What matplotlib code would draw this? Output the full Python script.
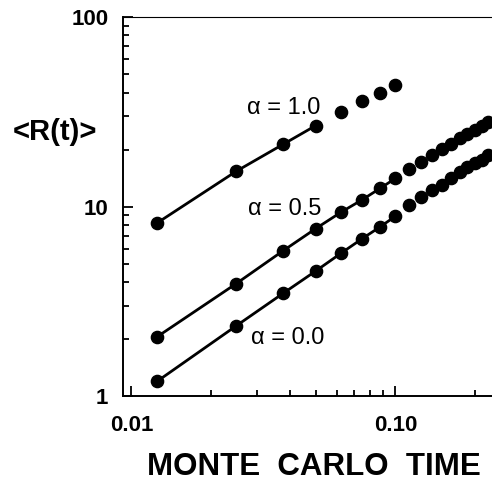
import matplotlib
matplotlib.use('Agg')
import matplotlib.pyplot as plt
import matplotlib.ticker

# Monte Carlo time steps
t = [0.0125, 0.025, 0.0375, 0.05, 0.0625, 0.075, 0.0875, 0.1,
     0.1125, 0.125, 0.1375, 0.15, 0.1625, 0.175, 0.1875, 0.2, 0.2125, 0.225]

r_a00 = [1.20, 2.36, 3.49, 4.59, 5.71, 6.80, 7.83, 8.91,
         10.2, 11.2, 12.2, 13.0, 14.1, 15.2, 16.2, 17.0, 17.7, 18.7]
r_a05 = [2.06, 3.94, 5.85, 7.68, 9.39, 10.9, 12.5, 14.1,
         15.9, 17.2, 18.7, 20.2, 21.5, 23.1, 24.3, 25.5, 26.5, 27.9]
t_a10 = [0.0125, 0.025, 0.0375, 0.05, 0.0625, 0.075, 0.0875, 0.1]
r_a10 = [8.2, 15.4, 21.3, 26.8, 31.5, 36.3, 39.7, 43.6]

# how many leading points are joined by the fitted line
n_line = {'a00': 8, 'a05': 8, 'a10': 4}

plt.rcParams['font.family'] = ['Liberation Sans', 'DejaVu Sans']

fig = plt.figure(figsize=(4.92, 4.82), dpi=100)
ax = fig.add_axes([0.25, 0.1774, 0.76, 0.7873])
ax.set_xscale('log')
ax.set_yscale('log')

for tt, rr, key in [(t, r_a00, 'a00'), (t, r_a05, 'a05'), (t_a10, r_a10, 'a10')]:
    n = n_line[key]
    ax.plot(tt[:n], rr[:n], color='black', lw=2.0, solid_capstyle='round')
    ax.plot(tt, rr, 'o', color='black', ms=8.8, mec='black')

ax.set_xlim(0.0093, 0.2425)
ax.set_ylim(1, 100)

ax.xaxis.set_major_locator(matplotlib.ticker.FixedLocator([0.01, 0.1]))
ax.xaxis.set_major_formatter(matplotlib.ticker.FixedFormatter(['0.01', '0.10']))
ax.xaxis.set_minor_locator(matplotlib.ticker.LogLocator(base=10, subs=range(2, 10)))
ax.xaxis.set_minor_formatter(matplotlib.ticker.NullFormatter())
ax.yaxis.set_major_locator(matplotlib.ticker.FixedLocator([1, 10, 100]))
ax.yaxis.set_major_formatter(matplotlib.ticker.FixedFormatter(['1', '10', '100']))
ax.yaxis.set_minor_locator(matplotlib.ticker.LogLocator(base=10, subs=range(2, 10)))
ax.yaxis.set_minor_formatter(matplotlib.ticker.NullFormatter())

ax.tick_params(which='both', direction='in', top=False, right=False, width=1.3)
ax.tick_params(which='major', length=7.5, labelsize=16)
ax.tick_params(axis='x', which='major', pad=13.5)
ax.tick_params(axis='y', which='major', pad=10.5)
ax.tick_params(which='minor', length=4.5)
for lab in ax.get_xticklabels() + ax.get_yticklabels():
    lab.set_fontweight('bold')

ax.spines['right'].set_visible(False)
ax.spines['left'].set_linewidth(1.4)
ax.spines['bottom'].set_linewidth(1.4)
ax.spines['top'].set_linewidth(0.8)

ax.text(0.0518, 33.0, '\u03b1 = 1.0', fontsize=17, ha='right', va='center')
ax.text(0.0526, 9.7, '\u03b1 = 0.5', fontsize=17, ha='right', va='center')
ax.text(0.054, 2.03, '\u03b1 = 0.0', fontsize=17, ha='right', va='center')

fig.text(0.637, 0.032, 'MONTE  CARLO  TIME', fontsize=22.5, fontweight='bold',
         ha='center', va='center')
fig.text(0.112, 0.726, '<R(t)>', fontsize=21, fontweight='bold',
         ha='center', va='center')

fig.savefig('out.png', dpi=100)
